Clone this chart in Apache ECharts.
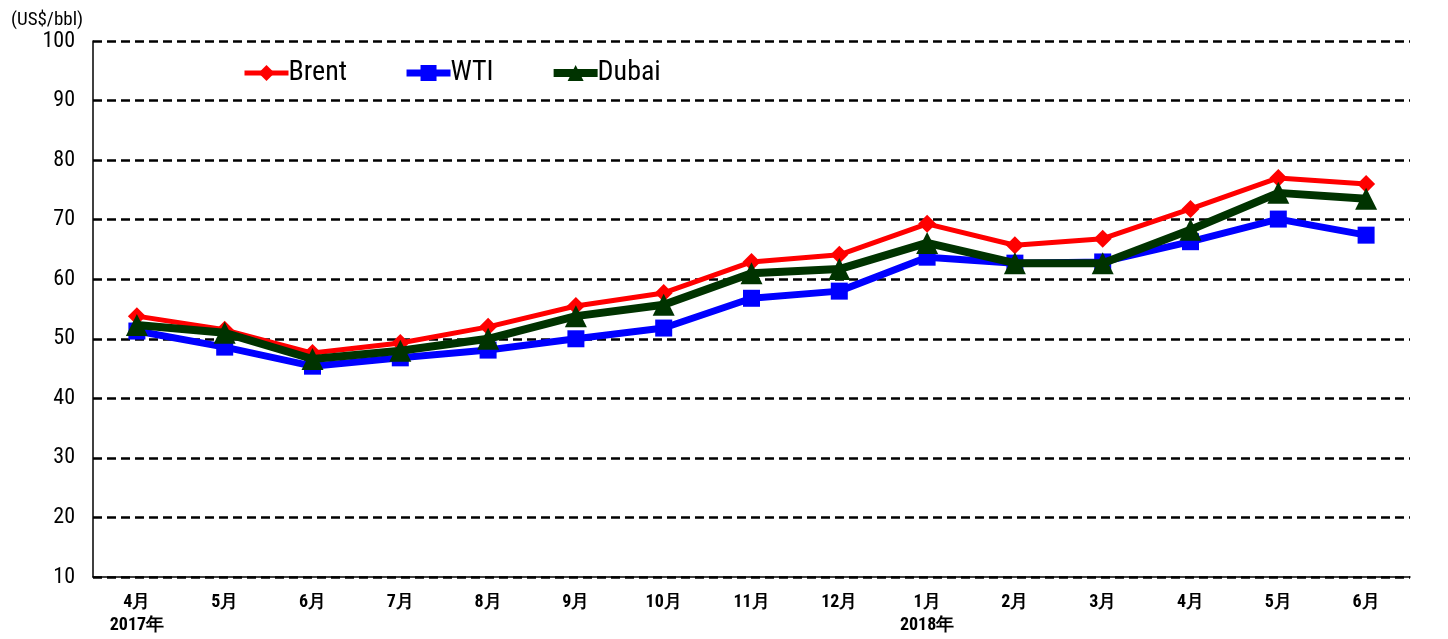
<!DOCTYPE html>
<html><head><meta charset="utf-8">
<script src="https://cdn.jsdelivr.net/npm/echarts@6/dist/echarts.min.js"></script>
<style>html,body{margin:0;padding:0;background:#fff}#c{width:1448px;height:639px}</style>
</head><body><div id="c"></div>
<script>
const categories = ['4月\n2017年','5月','6月','7月','8月','9月','10月','11月','12月','1月\n2018年','2月','3月','4月','5月','6月'];
const brent = [53.8,51.5,47.6,49.3,52.0,55.5,57.7,62.9,64.1,69.3,65.7,66.8,71.8,77.0,76.0];
const wti   = [51.3,48.6,45.4,46.8,48.1,50.0,51.8,56.8,58.0,63.7,62.7,62.9,66.3,70.1,67.4];
const dubai = [52.3,51.0,46.6,48.0,50.0,53.8,55.7,61.0,61.7,66.1,62.7,62.7,68.3,74.5,73.5];
const yTicks = {min:10,max:100,interval:10};
const FONT = '"Liberation Sans Narrow","Roboto Condensed","DejaVu Sans Condensed",sans-serif';

const chart = echarts.init(document.getElementById('c'));
chart.setOption({
  animation:false,
  textStyle:{fontFamily:FONT},
  title:{text:'(US$/bbl)',left:6,top:6,textStyle:{fontSize:19,fontWeight:'normal',color:'#000',fontFamily:FONT}},
  legend:{left:237,top:54,itemGap:56,itemWidth:44,itemHeight:20,
    textStyle:{fontSize:28,color:'#000',fontFamily:FONT,padding:[0,0,0,-5]},
    data:[
      {name:'Brent',lineStyle:{width:5}},
      {name:'WTI',lineStyle:{width:7}},
      {name:'Dubai',lineStyle:{width:8}}
    ]},
  grid:{left:93,right:38,top:41,bottom:62},
  xAxis:{type:'category',data:categories,boundaryGap:true,
    axisLine:{lineStyle:{color:'#000',width:1.5}},
    axisTick:{inside:true,length:5,lineStyle:{color:'#999'}},
    axisLabel:{fontSize:18,fontWeight:'bold',color:'#000',margin:14,lineHeight:23,fontFamily:FONT}},
  yAxis:{type:'value',min:yTicks.min,max:yTicks.max,interval:yTicks.interval,
    axisLine:{show:true,lineStyle:{color:'#000',width:1.5}},
    axisTick:{show:false},
    axisLabel:{fontSize:22,color:'#000',margin:18,fontFamily:FONT},
    splitLine:{lineStyle:{color:'#000',width:2.5,type:[9,5]}}},
  series:[
    {name:'WTI',type:'line',data:wti,symbol:'rect',symbolSize:17,
      lineStyle:{color:'#0000ff',width:7},itemStyle:{color:'#0000ff'},z:2},
    {name:'Dubai',type:'line',data:dubai,symbol:'triangle',symbolSize:22,
      lineStyle:{color:'#003300',width:8},itemStyle:{color:'#003300'},z:3},
    {name:'Brent',type:'line',data:brent,symbol:'diamond',symbolSize:18,
      lineStyle:{color:'#ff0000',width:5},itemStyle:{color:'#ff0000'},z:1}
  ]
});
</script></body></html>
